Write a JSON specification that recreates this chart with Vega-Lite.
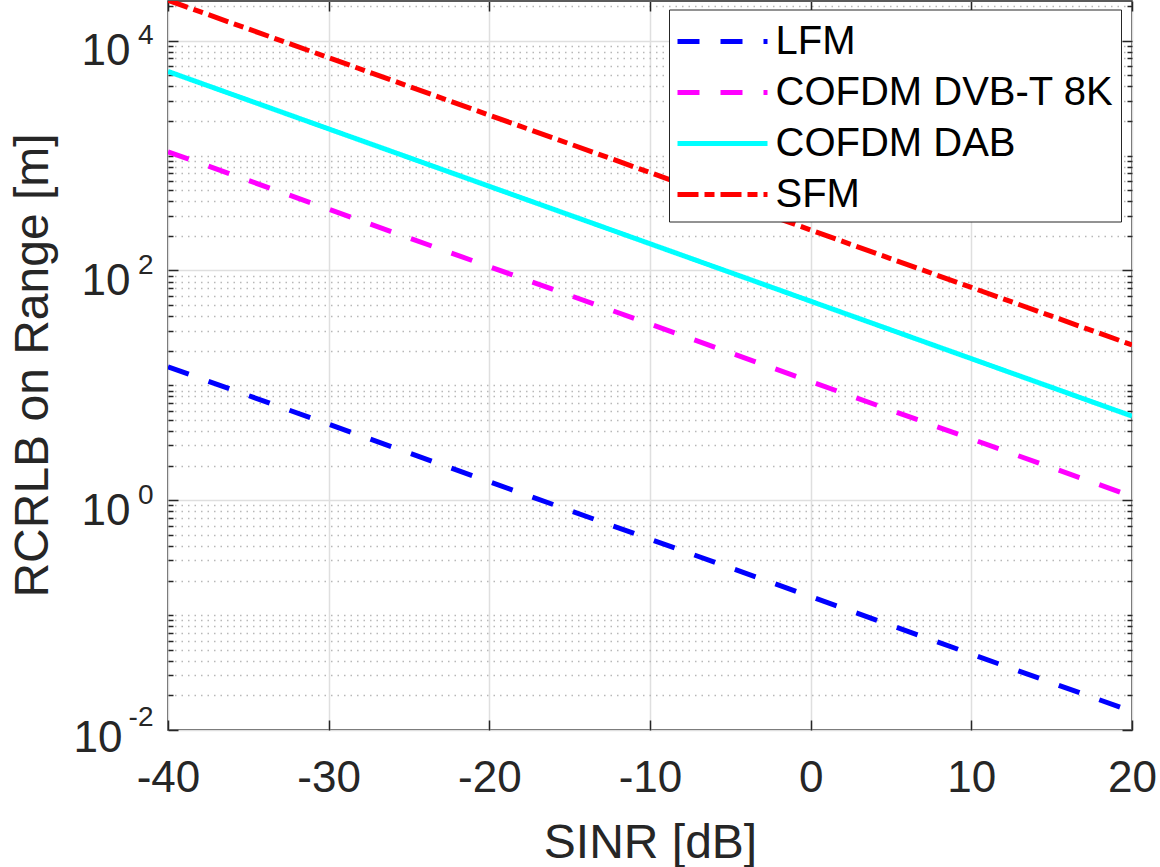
{
  "$schema": "https://vega.github.io/schema/vega-lite/v6.json",
  "width": 964,
  "height": 729,
  "autosize": {"type": "none"},
  "padding": {"left": 168, "top": 1, "right": 28, "bottom": 137},
  "background": "white",
  "config": {
    "font": "Liberation Sans",
    "view": {"stroke": "#262626", "strokeWidth": 1.5},
    "axis": {
      "domain": false,
      "tickColor": "#262626",
      "tickWidth": 1.5,
      "labelColor": "#262626",
      "titleColor": "#262626",
      "labelFont": "Liberation Sans",
      "titleFont": "Liberation Sans",
      "titleFontWeight": "normal",
      "gridColor": "#dfdfdf",
      "gridWidth": 1.5
    },
    "legend": {
      "orient": "none",
      "legendX": 501,
      "legendY": 8.5,
      "symbolType": "M-2,0H2",
      "symbolSize": 2025,
      "symbolOffset": 21.5,
      "symbolStrokeWidth": 5,
      "labelFont": "Liberation Sans",
      "labelFontSize": 40,
      "labelColor": "#000000",
      "labelOffset": 28,
      "labelLimit": 600,
      "padding": 7,
      "rowPadding": 6,
      "strokeColor": "#262626",
      "fillColor": "white"
    }
  },
  "data": {
    "values": [
      {"series": "LFM", "snr": -40, "rcrlb": 14.5},
      {"series": "LFM", "snr": -30, "rcrlb": 4.585},
      {"series": "LFM", "snr": -20, "rcrlb": 1.45},
      {"series": "LFM", "snr": -10, "rcrlb": 0.4585},
      {"series": "LFM", "snr": 0, "rcrlb": 0.145},
      {"series": "LFM", "snr": 10, "rcrlb": 0.04585},
      {"series": "LFM", "snr": 20, "rcrlb": 0.0145},
      {"series": "COFDM DVB-T 8K", "snr": -40, "rcrlb": 1080},
      {"series": "COFDM DVB-T 8K", "snr": -30, "rcrlb": 341.5},
      {"series": "COFDM DVB-T 8K", "snr": -20, "rcrlb": 108},
      {"series": "COFDM DVB-T 8K", "snr": -10, "rcrlb": 34.15},
      {"series": "COFDM DVB-T 8K", "snr": 0, "rcrlb": 10.8},
      {"series": "COFDM DVB-T 8K", "snr": 10, "rcrlb": 3.415},
      {"series": "COFDM DVB-T 8K", "snr": 20, "rcrlb": 1.08},
      {"series": "COFDM DAB", "snr": -40, "rcrlb": 5400},
      {"series": "COFDM DAB", "snr": -30, "rcrlb": 1707.6},
      {"series": "COFDM DAB", "snr": -20, "rcrlb": 540},
      {"series": "COFDM DAB", "snr": -10, "rcrlb": 170.8},
      {"series": "COFDM DAB", "snr": 0, "rcrlb": 54},
      {"series": "COFDM DAB", "snr": 10, "rcrlb": 17.08},
      {"series": "COFDM DAB", "snr": 20, "rcrlb": 5.4},
      {"series": "SFM", "snr": -40, "rcrlb": 22500},
      {"series": "SFM", "snr": -30, "rcrlb": 7115},
      {"series": "SFM", "snr": -20, "rcrlb": 2250},
      {"series": "SFM", "snr": -10, "rcrlb": 711.5},
      {"series": "SFM", "snr": 0, "rcrlb": 225},
      {"series": "SFM", "snr": 10, "rcrlb": 71.15},
      {"series": "SFM", "snr": 20, "rcrlb": 22.5}
    ]
  },
  "resolve": {"axis": {"x": "independent", "y": "independent"}},
  "layer": [
    {
      "mark": {"type": "line", "opacity": 0},
      "encoding": {
        "x": {"field": "snr", "type": "quantitative", "scale": {"domain": [-40, 20], "nice": false, "zero": false},
          "axis": {"orient": "top", "values": [-40, -30, -20, -10, 0, 10, 20], "tickSize": -10, "labels": false, "grid": false, "title": null}},
        "y": {"field": "rcrlb", "type": "quantitative", "scale": {"type": "log", "domain": [0.01, 22160], "nice": false},
          "axis": {"orient": "left", "values": [0.02,0.03,0.04,0.05,0.06,0.07,0.08,0.09,0.1,0.2,0.3,0.4,0.5,0.6,0.7,0.8,0.9,2,3,4,5,6,7,8,9,10,20,30,40,50,60,70,80,90,200,300,400,500,600,700,800,900,1000,2000,3000,4000,5000,6000,7000,8000,9000,20000],
            "tickSize": -5, "labels": false, "grid": true, "gridDash": [1.5, 5], "gridColor": "#b8b8b8", "gridWidth": 1.3, "title": null}},
        "detail": {"field": "series"}
      }
    },
    {
      "mark": {"type": "line", "opacity": 0},
      "encoding": {
        "x": {"field": "snr", "type": "quantitative", "scale": {"domain": [-40, 20], "nice": false, "zero": false}, "axis": null},
        "y": {"field": "rcrlb", "type": "quantitative", "scale": {"type": "log", "domain": [0.01, 22160], "nice": false},
          "axis": {"orient": "right", "values": [0.01, 1, 100, 10000], "tickSize": -10, "labels": false, "grid": false, "title": null}},
        "detail": {"field": "series"}
      }
    },
    {
      "mark": {"type": "line", "opacity": 0},
      "encoding": {
        "x": {"field": "snr", "type": "quantitative", "scale": {"domain": [-40, 20], "nice": false, "zero": false}, "axis": null},
        "y": {"field": "rcrlb", "type": "quantitative", "scale": {"type": "log", "domain": [0.01, 22160], "nice": false},
          "axis": {"orient": "right", "values": [0.02,0.03,0.04,0.05,0.06,0.07,0.08,0.09,0.1,0.2,0.3,0.4,0.5,0.6,0.7,0.8,0.9,2,3,4,5,6,7,8,9,10,20,30,40,50,60,70,80,90,200,300,400,500,600,700,800,900,1000,2000,3000,4000,5000,6000,7000,8000,9000,20000],
            "tickSize": -5, "labels": false, "grid": false, "title": null}},
        "detail": {"field": "series"}
      }
    },
    {
      "mark": {"type": "line", "opacity": 0},
      "encoding": {
        "x": {"field": "snr", "type": "quantitative", "scale": {"domain": [-40, 20], "nice": false, "zero": false}, "axis": null},
        "y": {"field": "rcrlb", "type": "quantitative", "scale": {"type": "log", "domain": [0.01, 22160], "nice": false},
          "axis": {"orient": "left", "values": [0.01, 1, 100, 10000], "ticks": false, "grid": false, "title": null,
            "labelExpr": "datum.value < 0.1 ? '-2' : datum.value < 10 ? '0' : datum.value < 1000 ? '2' : '4'",
            "labelFontSize": 28, "labelPadding": 15, "labelAlign": "right",
            "labelOffset": {"condition": {"test": "datum.value < 0.1", "value": -13}, "value": -5},
            "labelFlush": false}},
        "detail": {"field": "series"}
      }
    },
    {
      "mark": {"type": "line", "strokeWidth": 5, "clip": true},
      "encoding": {
        "x": {"field": "snr", "type": "quantitative", "scale": {"domain": [-40, 20], "nice": false, "zero": false},
          "axis": {"orient": "bottom", "values": [-40, -30, -20, -10, 0, 10, 20], "tickSize": -10, "grid": true,
            "labelExpr": "'' + datum.value",
            "labelFontSize": 44, "labelPadding": 36, "labelFlush": false,
            "title": "SINR [dB]", "titleFontSize": 48, "titleX": 482, "titleY": 127, "titleBaseline": "alphabetic", "titleAlign": "center"}},
        "y": {"field": "rcrlb", "type": "quantitative", "scale": {"type": "log", "domain": [0.01, 22160], "nice": false},
          "axis": {"orient": "left", "values": [0.01, 1, 100, 10000], "tickSize": -10, "grid": true,
            "labelExpr": "'10'",
            "labelFontSize": 44,
            "labelPadding": {"condition": {"test": "datum.value < 0.1", "value": 56}, "value": 48},
            "labelOffset": {"condition": {"test": "datum.value < 0.1", "value": 8}, "value": 11},
            "labelFlush": false,
            "title": "RCRLB on Range [m]", "titleFontSize": 48, "titleAngle": -90, "titleX": -121, "titleY": 364, "titleBaseline": "alphabetic", "titleAlign": "center"}},
        "color": {"field": "series", "type": "nominal",
          "scale": {"domain": ["LFM", "COFDM DVB-T 8K", "COFDM DAB", "SFM"], "range": ["#0000ff", "#ff00ff", "#00ffff", "#ff0000"]},
          "legend": {"title": null}},
        "strokeDash": {"field": "series", "type": "nominal",
          "scale": {"domain": ["LFM", "COFDM DVB-T 8K", "COFDM DAB", "SFM"], "range": [[22, 21], [22, 21], [1, 0], [21, 6, 10, 6]]},
          "legend": {"title": null}}
      }
    }
  ]
}
